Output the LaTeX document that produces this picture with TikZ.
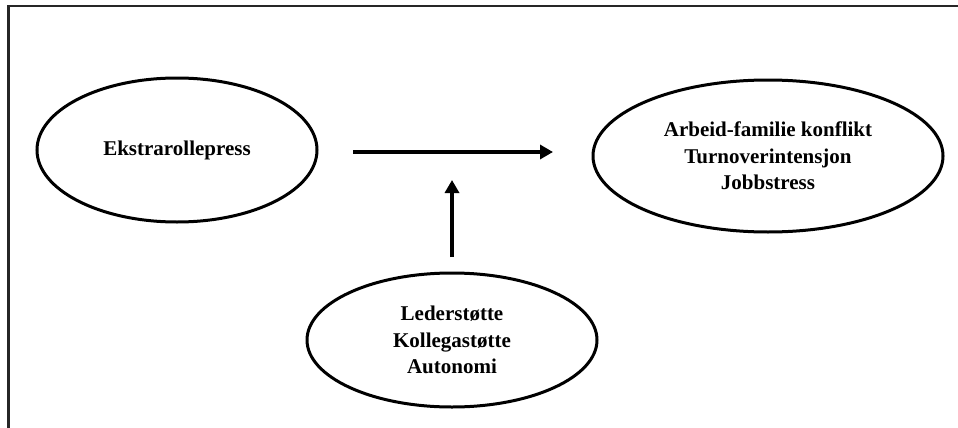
\documentclass[tikz,border=0pt]{standalone}
\usepackage{fontspec}
\setmainfont{Liberation Serif}
\usetikzlibrary{arrows.meta,shapes.geometric}
\tikzset{
  varell/.style={ellipse, draw, line width=3pt, align=center, inner sep=0pt,
                 font=\fontsize{21}{26.5}\selectfont\bfseries},
  effarrow/.style={line width=4.5pt, -{Triangle[length=13pt,width=14pt]}},
  frameline/.style={line width=2.8pt, black!85},
}
\begin{document}
\begin{tikzpicture}[x=1pt,y=-1pt]
  \useasboundingbox (0,0) rectangle (958,428);
  % ramme
  \draw[frameline] (958,6) -- (8.5,6) -- (8.5,428);
  \node[varell, minimum width=280pt, minimum height=144pt] (ekstra) at (177,150) {Ekstrarollepress};
  \node[varell, minimum width=350pt, minimum height=152pt] (utfall) at (768,156)
    {Arbeid-familie konflikt\\Turnoverintensjon\\Jobbstress};
  \node[varell, minimum width=290pt, minimum height=134pt] (ressurs) at (452,340)
    {Lederstøtte\\Kollegastøtte\\Autonomi};
  \coordinate (hstart) at (353,152);
  \coordinate (hend) at (553,152);
  \coordinate (vstart) at (452,257);
  \coordinate (vend) at (452,180);
  \draw[effarrow] (hstart) -- (hend);
  \draw[effarrow] (vstart) -- (vend);
\end{tikzpicture}
\end{document}
